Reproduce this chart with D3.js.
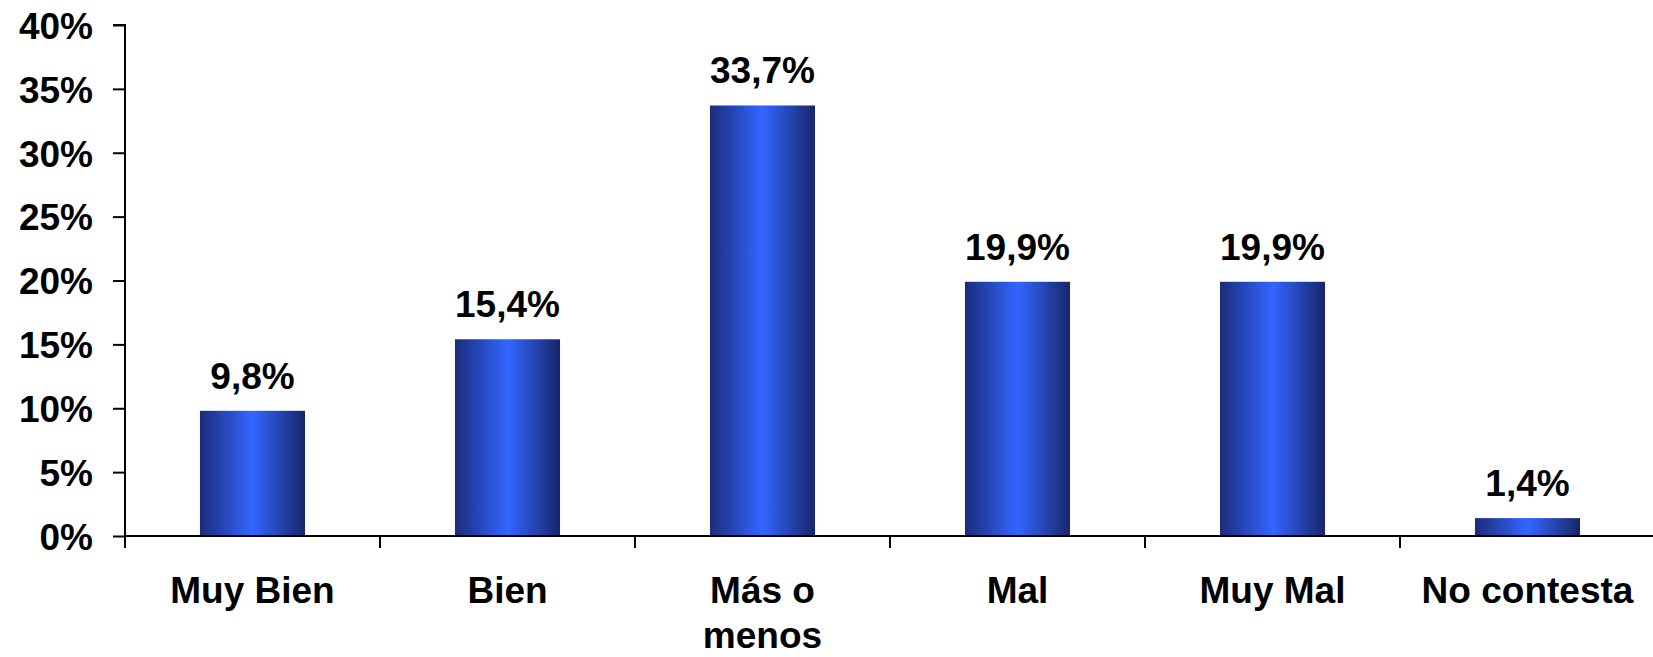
<!DOCTYPE html>
<html>
<head>
<meta charset="utf-8">
<script src="https://cdn.jsdelivr.net/npm/d3@7/dist/d3.min.js"></script>
<style>
html,body{margin:0;padding:0;background:#fff;}
svg{display:block;}
text{font-family:"Liberation Sans",Arial,sans-serif;font-weight:bold;fill:#000;}
</style>
</head>
<body>
<svg id="chart" width="1653" height="657"></svg>
<script>
const categories = ["Muy Bien", "Bien", "Más o menos", "Mal", "Muy Mal", "No contesta"];
const categoryLines = [["Muy Bien"], ["Bien"], ["Más o", "menos"], ["Mal"], ["Muy Mal"], ["No contesta"]];
const values = [9.8, 15.4, 33.7, 19.9, 19.9, 1.4];
const valueLabels = ["9,8%", "15,4%", "33,7%", "19,9%", "19,9%", "1,4%"];
const yTicks = [0, 5, 10, 15, 20, 25, 30, 35, 40];

const W = 1653, H = 657;
const mLeft = 125, mTop = 25, mBottom = 536, mRight = 1655;
const svg = d3.select("#chart");

const x = d3.scaleBand().domain(categories).range([mLeft, mRight]).padding(0);
const y = d3.scaleLinear().domain([0, 40]).range([mBottom, mTop]);
const barW = x.step() * 0.412;

const defs = svg.append("defs");
const grad = defs.append("linearGradient").attr("id", "barGrad")
  .attr("x1", "0%").attr("x2", "100%").attr("y1", "0%").attr("y2", "0%");
grad.append("stop").attr("offset", "0%").attr("stop-color", "#1b2c7c");
grad.append("stop").attr("offset", "50%").attr("stop-color", "#3366ff");
grad.append("stop").attr("offset", "100%").attr("stop-color", "#18266a");

// bars
svg.append("g").selectAll("rect").data(values).join("rect")
  .attr("x", (d, i) => x(categories[i]) + (x.step() - barW) / 2)
  .attr("y", d => y(d))
  .attr("width", barW)
  .attr("height", d => y(0) - y(d))
  .attr("fill", "url(#barGrad)");

// value labels
svg.append("g").selectAll("text").data(values).join("text")
  .attr("x", (d, i) => x(categories[i]) + x.step() / 2)
  .attr("y", d => y(d) - 22)
  .attr("text-anchor", "middle")
  .attr("font-size", 37)
  .text((d, i) => valueLabels[i]);

// y axis
const yAxis = d3.axisLeft(y).tickValues(yTicks).tickSize(12).tickPadding(20)
  .tickFormat(d => d + "%");
const gy = svg.append("g").attr("transform", `translate(${mLeft},0)`).call(yAxis);
gy.select(".domain").attr("stroke", "#000").attr("stroke-width", 2).attr("d", `M-12,${mTop}H0V${mBottom}`);
gy.selectAll(".tick line").attr("stroke", "#000").attr("stroke-width", 2);
gy.selectAll(".tick text").attr("font-size", 37).attr("font-family", "Liberation Sans, Arial, sans-serif")
  .attr("font-weight", "bold").attr("fill", "#000").attr("dy", "0.36em");

// x axis
const xAxis = d3.axisBottom(x).tickSize(0).tickFormat("");
const gx = svg.append("g").attr("transform", `translate(0,${mBottom})`).call(xAxis);
gx.select(".domain").attr("stroke", "#000").attr("stroke-width", 2).attr("d", `M${mLeft},0H${W}`);
gx.selectAll(".tick").remove();
const boundaries = categories.map(c => x(c)).concat([x(categories[categories.length - 1]) + x.step()]);
gx.selectAll("line.sep").data(boundaries).join("line").attr("class", "sep")
  .attr("x1", d => d).attr("x2", d => d).attr("y1", 0).attr("y2", 12)
  .attr("stroke", "#000").attr("stroke-width", 2);

// category labels
const lab = svg.append("g").selectAll("text").data(categoryLines).join("text")
  .attr("text-anchor", "middle").attr("font-size", 37)
  .attr("x", (d, i) => x(categories[i]) + x.step() / 2)
  .attr("y", 603);
lab.selectAll("tspan").data(d => d).join("tspan")
  .attr("x", function () { return d3.select(this.parentNode).attr("x"); })
  .attr("dy", (d, j) => j === 0 ? 0 : 45)
  .text(d => d);
</script>
</body>
</html>
